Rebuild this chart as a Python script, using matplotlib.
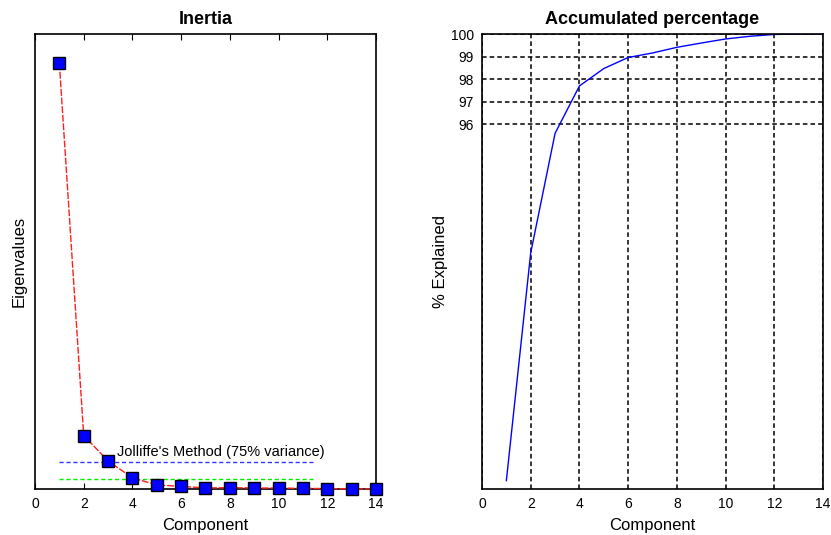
import numpy as np
import matplotlib
matplotlib.use("Agg")
import matplotlib.pyplot as plt

# -----------------------------------
# Data
# -----------------------------------
components = np.arange(1, 15)
eigenvalues = [11.23, 1.41, 0.74, 0.294, 0.108, 0.069, 0.028,
               0.035, 0.027, 0.025, 0.017, 0.011, 0.003, 0.0]
accumulated = [80.22, 90.31, 95.6, 97.7, 98.47, 98.96, 99.16,
               99.41, 99.6, 99.78, 99.9, 99.98, 100.0, 100.0]
jolliffe_level = 0.7
second_level = 0.27
threshold_span = [1, 11.4]
x_ticks = [0, 2, 4, 6, 8, 10, 12, 14]
pct_ticks = [96, 97, 98, 99, 100]

plt.rcParams["font.family"] = ["Liberation Sans", "DejaVu Sans"]
plt.rcParams["font.size"] = 10

W, H = 831, 535
fig = plt.figure(figsize=(W / 100, H / 100), dpi=100)

# -----------------------------------
# Left: Inertia (scree plot)
# -----------------------------------
ax1 = fig.add_axes([35 / W, (H - 489) / H, 341 / W, 455 / H])
ax1.plot(components, eigenvalues, color="#ff2020", lw=1, linestyle=(0, (5, 1.2)),
         marker="s", markersize=8.5, markerfacecolor="#0000ff",
         markeredgecolor="black", markeredgewidth=1, clip_on=False, zorder=3)
ax1.plot(threshold_span, [jolliffe_level] * 2, color="#3333ff", lw=1,
         linestyle=(0, (3, 2)))
ax1.plot(threshold_span, [second_level] * 2, color="#00ee00", lw=1,
         linestyle=(0, (3, 2)))
ax1.text(3.37, jolliffe_level + 0.1, "Jolliffe's Method (75% variance)",
         fontsize=10.5, ha="left", va="bottom")
ax1.set_xlim(0, 14)
ax1.set_ylim(0, 12)
ax1.set_xticks(x_ticks)
ax1.set_yticks([])
ax1.tick_params(axis="x", direction="in", top=True, length=4, pad=6)
ax1.set_title("Inertia", fontweight="bold", fontsize=13, pad=7)
ax1.set_xlabel("Component", fontsize=12, labelpad=5)
ax1.set_ylabel("Eigenvalues", fontsize=12, labelpad=6)

# -----------------------------------
# Right: accumulated percentage
# -----------------------------------
ax2 = fig.add_axes([482 / W, (H - 489) / H, 341 / W, 455 / H])
ax2.plot(components, accumulated, color="#0000ff", lw=1)
ax2.set_xlim(0, 14)
ax2.set_ylim(79.85, 100)
ax2.set_xticks(x_ticks)
ax2.set_yticks(pct_ticks)
ax2.grid(True, color="black", linestyle=(0, (3, 2)), lw=1.1)
ax2.tick_params(direction="in", length=0, pad=6)
ax2.set_title("Accumulated percentage", fontweight="bold", fontsize=13, pad=7)
ax2.set_xlabel("Component", fontsize=12, labelpad=5)
ax2.set_ylabel("% Explained", fontsize=12, labelpad=2)

for ax in (ax1, ax2):
    for s in ax.spines.values():
        s.set_linewidth(1.2)

fig.savefig("out.png", dpi=100)
